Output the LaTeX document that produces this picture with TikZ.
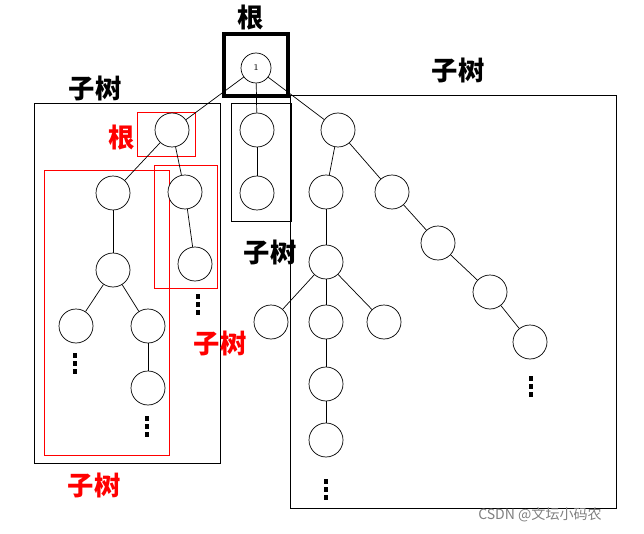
\documentclass[tikz,border=0pt]{standalone}
\usepackage{fontspec}
\newfontfamily\cjk{Noto Sans CJK SC}
\usetikzlibrary{positioning}
\tikzset{
  vtx/.style={circle,draw,fill=white,minimum size=0.68cm,inner sep=0pt},
  lbl/.style={font=\cjk\fontsize{15}{17}\selectfont\bfseries},
  dotmark/.style={fill=black,inner sep=0pt,minimum width=0.07cm,minimum height=0.1cm},
}
\begin{document}
\begin{tikzpicture}[x=0.02cm,y=-0.02cm]
    \useasboundingbox (0,0) rectangle (644,533);
    % boxes
    \draw (34,103) rectangle (220,463);
    \draw (290,95) rectangle (616,508);
    \draw (231,103) rectangle (291,221);
    \draw[red] (137,112) rectangle (195,156);
    \draw[red] (44,170) rectangle (169,455);
    \draw[red] (154,165) rectangle (217,288);
    \draw[line width=2.5pt] (224,34) rectangle (288,96);
    % nodes
    \node[vtx,minimum size=0.6cm,font=\tiny] (root) at (256,68) {1};
    \node[vtx] (a) at (172,130) {};
    \node[vtx] (b) at (113,193) {};
    \node[vtx] (c) at (185,192) {};
    \node[vtx] (d) at (113,270) {};
    \node[vtx] (e) at (76,326) {};
    \node[vtx] (f) at (148,326) {};
    \node[vtx] (g) at (148,388) {};
    \node[vtx] (h) at (195,264) {};
    \node[vtx] (m1) at (257,130) {};
    \node[vtx] (m2) at (257,193) {};
    \node[vtx] (r1) at (338,130) {};
    \node[vtx] (r2) at (326,192) {};
    \node[vtx] (r3) at (392,192) {};
    \node[vtx] (r4) at (326,262) {};
    \node[vtx] (r5) at (271,322) {};
    \node[vtx] (r6) at (326,322) {};
    \node[vtx] (r7) at (384,322) {};
    \node[vtx] (r8) at (326,384) {};
    \node[vtx] (r9) at (326,440) {};
    \node[vtx] (r10) at (438,243) {};
    \node[vtx] (r11) at (490,292) {};
    \node[vtx] (r12) at (530,342) {};
    % edges
    \foreach \u/\v in {root/a,root/m1,root/r1,a/b,a/c,b/d,d/e,d/f,f/g,c/h,
                       m1/m2,r1/r2,r1/r3,r2/r4,r4/r5,r4/r6,r4/r7,r6/r8,r8/r9,
                       r3/r10,r10/r11,r11/r12}
        \draw (\u) -- (\v);
    % dots
    \foreach \x/\y in {75/355,147/418,198/296,326/481,531/378}
        \foreach \k in {0,1,2}
            \node[dotmark] at (\x,\y+\k*8) {};
    % labels
    \node[lbl] (tRoot) at (251,18) {根};
    \node[lbl] (tLeft) at (95,88) {子树};
    \node[lbl] (tRight) at (458,70) {子树};
    \node[lbl] (tMid) at (270,252) {子树};
    \node[lbl,red] (tRootA) at (122,138) {根};
    \node[lbl,red] (tSubC) at (220,343) {子树};
    \node[lbl,red] (tSubB) at (94,485) {子树};
    \node[gray,font=\cjk\fontsize{8}{9}\selectfont] (wm) at (540,515) {CSDN @文坛小码农};
\end{tikzpicture}
\end{document}
